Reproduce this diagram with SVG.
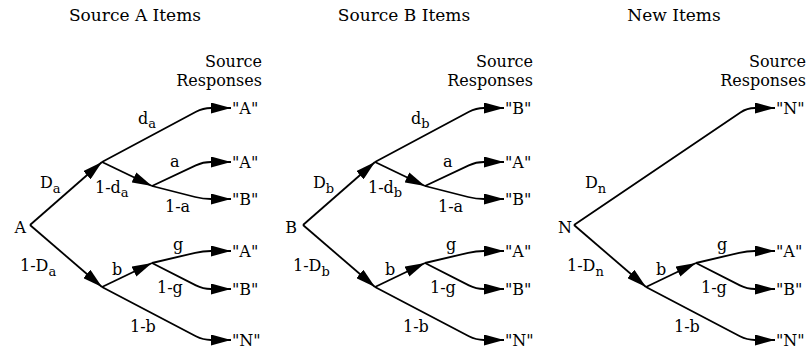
<svg xmlns="http://www.w3.org/2000/svg" width="808" height="354" viewBox="0 0 808 354">
<style>
text{font-family:"DejaVu Serif","Liberation Serif",serif;font-size:16px;fill:#000}
.ti{font-size:17px;text-anchor:middle}
.r{text-anchor:end}
.s{font-size:13px}
.e{fill:none;stroke:#000;stroke-width:1.8;marker-end:url(#ah)}
</style>
<defs>
<marker id="ah" markerUnits="userSpaceOnUse" viewBox="0 0 20 11" markerWidth="20" markerHeight="11" refX="20" refY="5.5" orient="auto">
<path d="M0,0 L20,5.5 L0,11 Z" fill="#000"/>
</marker>
</defs>
<rect width="808" height="354" fill="#fff"/>

<g id="titles">
<text class="ti" x="135" y="21">Source A Items</text>
<text class="ti" x="404" y="21">Source B Items</text>
<text class="ti" x="674" y="21">New Items</text>
</g>

<g id="headers">
<text class="r" x="262" y="67">Source</text>
<text class="r" x="262" y="86">Responses</text>
<text class="r" x="533" y="67">Source</text>
<text class="r" x="533" y="86">Responses</text>
<text class="r" x="806" y="67">Source</text>
<text class="r" x="806" y="86">Responses</text>
</g>

<g id="connectors">
<!-- tree A -->
<path class="e" d="M30,225 L102,162"/>
<path class="e" d="M102,162 L196,111.8 Q203,108 211,108 L231,108"/>
<path class="e" d="M102,162 L152,186"/>
<path class="e" d="M152,186 L195.8,165.4 Q203,162 211,162 L231,162"/>
<path class="e" d="M152,186 L195.2,197 Q203,199 211,199 L231,199"/>
<path class="e" d="M30,225 L102,287"/>
<path class="e" d="M102,287 L152,263"/>
<path class="e" d="M152,263 L195.2,252.8 Q203,251 211,251 L231,251"/>
<path class="e" d="M152,263 L195.9,285.4 Q203,289 211,289 L231,289"/>
<path class="e" d="M102,287 L195.9,336.3 Q203,340 211,340 L231,340"/>
<!-- tree B -->
<path class="e" d="M303,225 L375,162"/>
<path class="e" d="M375,162 L469,111.8 Q476,108 484,108 L504,108"/>
<path class="e" d="M375,162 L425,186"/>
<path class="e" d="M425,186 L468.8,165.4 Q476,162 484,162 L504,162"/>
<path class="e" d="M425,186 L468.2,197 Q476,199 484,199 L504,199"/>
<path class="e" d="M303,225 L375,287"/>
<path class="e" d="M375,287 L425,263"/>
<path class="e" d="M425,263 L468.2,252.8 Q476,251 484,251 L504,251"/>
<path class="e" d="M425,263 L468.9,285.4 Q476,289 484,289 L504,289"/>
<path class="e" d="M375,287 L468.9,336.3 Q476,340 484,340 L504,340"/>
<!-- tree N -->
<path class="e" d="M574,225 L740.4,112.5 Q747,108 755,108 L775,108"/>
<path class="e" d="M574,225 L646,287"/>
<path class="e" d="M646,287 L696,263"/>
<path class="e" d="M696,263 L739.2,252.8 Q747,251 755,251 L775,251"/>
<path class="e" d="M696,263 L739.9,285.4 Q747,289 755,289 L775,289"/>
<path class="e" d="M646,287 L739.9,336.3 Q747,340 755,340 L775,340"/>
</g>

<g id="treeA">
<g id="rootA"><text class="r" x="26" y="233">A</text></g>
<g id="A-resp1"><text x="232" y="114">"A"</text></g>
<g id="A-resp2"><text x="232" y="168">"A"</text></g>
<g id="A-resp3"><text x="232" y="205">"B"</text></g>
<g id="A-resp4"><text x="232" y="257">"A"</text></g>
<g id="A-resp5"><text x="232" y="295">"B"</text></g>
<g id="A-resp6"><text x="232" y="346">"N"</text></g>
<g id="A-labels">
<text x="40" y="188">D<tspan class="s" dy="5">a</tspan></text>
<text x="138" y="124">d<tspan class="s" dy="4">a</tspan></text>
<text x="95" y="193">1-d<tspan class="s" dy="4">a</tspan></text>
<text x="170" y="167">a</text>
<text x="165" y="212">1-a</text>
<text x="20" y="271">1-D<tspan class="s" dy="5">a</tspan></text>
<text x="112" y="275">b</text>
<text x="173" y="250">g</text>
<text x="157" y="293">1-g</text>
<text x="130" y="332">1-b</text>
</g>
</g>

<g id="treeB">
<g id="rootB"><text class="r" x="297" y="233">B</text></g>
<g id="B-resp1"><text x="505" y="114">"B"</text></g>
<g id="B-resp2"><text x="505" y="168">"A"</text></g>
<g id="B-resp3"><text x="505" y="205">"B"</text></g>
<g id="B-resp4"><text x="505" y="257">"A"</text></g>
<g id="B-resp5"><text x="505" y="295">"B"</text></g>
<g id="B-resp6"><text x="505" y="346">"N"</text></g>
<g id="B-labels">
<text x="313" y="188">D<tspan class="s" dy="5">b</tspan></text>
<text x="411" y="124">d<tspan class="s" dy="4">b</tspan></text>
<text x="368" y="193">1-d<tspan class="s" dy="4">b</tspan></text>
<text x="443" y="167">a</text>
<text x="438" y="212">1-a</text>
<text x="293" y="271">1-D<tspan class="s" dy="5">b</tspan></text>
<text x="385" y="275">b</text>
<text x="446" y="250">g</text>
<text x="430" y="293">1-g</text>
<text x="403" y="332">1-b</text>
</g>
</g>

<g id="treeN">
<g id="rootN"><text class="r" x="572" y="233">N</text></g>
<g id="N-resp1"><text x="776" y="114">"N"</text></g>
<g id="N-resp2"><text x="776" y="257">"A"</text></g>
<g id="N-resp3"><text x="776" y="295">"B"</text></g>
<g id="N-resp4"><text x="776" y="346">"N"</text></g>
<g id="N-labels">
<text x="585" y="188">D<tspan class="s" dy="5">n</tspan></text>
<text x="567" y="271">1-D<tspan class="s" dy="5">n</tspan></text>
<text x="656" y="275">b</text>
<text x="717" y="250">g</text>
<text x="701" y="293">1-g</text>
<text x="674" y="332">1-b</text>
</g>
</g>
</svg>
